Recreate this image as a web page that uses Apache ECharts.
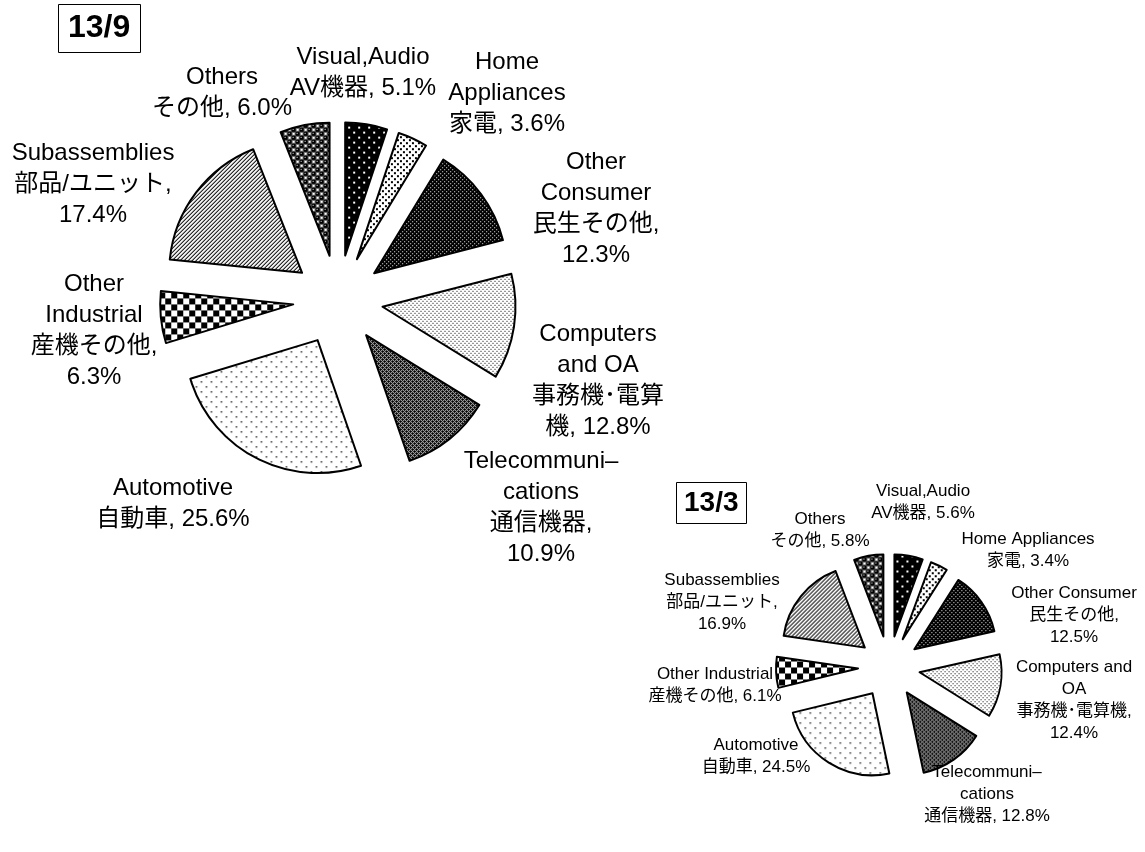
<!DOCTYPE html>
<html>
<head>
<meta charset="utf-8">
<script src="https://cdn.jsdelivr.net/npm/echarts@6/dist/echarts.min.js"></script>
<style>
  html, body { margin: 0; padding: 0; background: #fff; }
  #chart { width: 1145px; height: 852px; }
</style>
</head>
<body>
<div id="chart"></div>
<script>
// 分野別構成比 (clockwise from 12 o'clock)
const categories = ['Visual,Audio', 'Home Appliances', 'Other Consumer', 'Computers and OA',
  'Telecommunications', 'Automotive', 'Other Industrial', 'Subassemblies', 'Others']
const valuesSep = [5.1, 3.6, 12.3, 12.8, 10.9, 25.6, 6.3, 17.4, 6.0]   // 13/9
const valuesMar = [5.6, 3.4, 12.5, 12.4, 12.8, 24.5, 6.1, 16.9, 5.8]   // 13/3

// label texts, {v} is replaced by the value
const sepLabels = [
  'Visual,Audio\nAV機器, {v}%',
  'Home\nAppliances\n家電, {v}%',
  'Other\nConsumer\n民生その他,\n{v}%',
  'Computers\nand OA\n事務機･電算\n機, {v}%',
  'Telecommuni–\ncations\n通信機器,\n{v}%',
  'Automotive\n自動車, {v}%',
  'Other\nIndustrial\n産機その他,\n{v}%',
  'Subassemblies\n部品/ユニット,\n{v}%',
  'Others\nその他, {v}%',
]
const marLabels = [
  'Visual,Audio\nAV機器, {v}%',
  'Home Appliances\n家電, {v}%',
  'Other Consumer\n民生その他,\n{v}%',
  'Computers and\nOA\n事務機･電算機,\n{v}%',
  'Telecommuni–\ncations\n通信機器, {v}%',
  'Automotive\n自動車, {v}%',
  'Other Industrial\n産機その他, {v}%',
  'Subassemblies\n部品/ユニット,\n{v}%',
  'Others\nその他, {v}%',
]

// label block centres (layout only)
const sepLabelAt = [[363, 73], [507, 93], [596, 209], [598, 381], [541, 508], [173, 504], [94, 331], [93, 184], [222, 93]]
const marLabelAt = [[923, 502], [1028, 550], [1074, 615], [1074, 700], [987, 794], [756, 756], [715, 685], [722, 602], [820, 530]]

// ハッチングパターン
const pattern = (w, h, bg, draw) => {
  const c = document.createElement('canvas')
  c.width = w
  c.height = h
  const g = c.getContext('2d')
  g.fillStyle = bg
  g.fillRect(0, 0, w, h)
  draw(g)
  return { image: c, repeat: 'repeat' }
}
const px = (g, col, pts, s = 1) => {
  g.fillStyle = col
  pts.forEach(([x, y]) => g.fillRect(x, y, s, s))
}

const fills = [
  pattern(10, 10, '#000', (g) => px(g, '#fff', [[1, 1], [6, 6]], 2)),
  pattern(6, 6, '#fff', (g) => px(g, '#000', [[0, 0], [3, 3]], 2)),
  pattern(4, 4, '#000', (g) => px(g, '#fff', [[0, 0], [2, 2]])),
  pattern(4, 4, '#fff', (g) => px(g, '#000', [[0, 0], [2, 2]])),
  pattern(4, 4, '#000', (g) => px(g, '#d0d0d0', [[0, 0], [1, 1], [2, 2], [3, 3], [1, 3], [3, 1]])),
  pattern(10, 10, '#fff', (g) => px(g, '#333', [[1, 1], [6, 6]], 1.5)),
  pattern(12, 12, '#fff', (g) => px(g, '#000', [[0, 0], [6, 6]], 6)),
  pattern(4, 4, '#fff', (g) => {
    px(g, '#000', [[3, 0], [2, 1], [1, 2], [0, 3]])
    px(g, '#999', [[2, 0], [1, 1], [0, 2], [3, 3]])
  }),
  pattern(8, 8, '#fff', (g) => {
    // 球 pattern, drawn with wrap-around copies
    g.fillStyle = '#000'
    ;[[2, 2], [6, 6]].forEach(([x, y]) => {
      for (let ox = -8; ox <= 8; ox += 8) {
        for (let oy = -8; oy <= 8; oy += 8) {
          g.beginPath()
          g.arc(x + ox, y + oy, 2.7, 0, Math.PI * 2)
          g.fill()
        }
      }
    })
    px(g, '#fff', [[1, 1], [5, 5]])
  }),
]

const FONT = '"Liberation Sans", "Noto Sans CJK JP", sans-serif'

// 扇形 (exploded slices)
const pieSeries = (values, center, radius, offset) => ({
  type: 'pie',
  center,
  radius,
  startAngle: 90,
  clockwise: true,
  selectedMode: 'multiple',
  selectedOffset: offset,
  silent: true,
  emphasis: { disabled: true },
  itemStyle: { borderColor: '#000', borderWidth: 2 },
  select: { itemStyle: { borderColor: '#000', borderWidth: 2 } },
  label: { show: false },
  labelLine: { show: false },
  data: values.map((v, i) => ({
    name: categories[i],
    value: v,
    selected: true,
    itemStyle: { color: fills[i] },
  })),
})

// ラベル only (same pie, invisible)
const labelSeries = (values, texts, center, radius, fontSize, lineHeight, at) => ({
  type: 'pie',
  center,
  radius,
  startAngle: 90,
  clockwise: true,
  silent: true,
  z: 5,
  avoidLabelOverlap: false,
  minShowLabelAngle: 0,
  emphasis: { disabled: true },
  itemStyle: { color: 'rgba(0,0,0,0)', borderWidth: 0 },
  label: {
    show: true,
    position: 'outside',
    color: '#000',
    fontFamily: FONT,
    fontSize,
    lineHeight,
    align: 'center',
  },
  labelLine: { show: false },
  labelLayout: (p) => ({
    x: at[p.dataIndex][0],
    y: at[p.dataIndex][1],
    align: 'center',
    verticalAlign: 'middle',
  }),
  data: values.map((v, i) => ({
    name: categories[i],
    value: v,
    label: { formatter: texts[i].replace('{v}', v.toFixed(1)) },
  })),
})

const chart = echarts.init(document.getElementById('chart'))
chart.setOption({
  backgroundColor: '#fff',
  animation: false,
  title: [
    {
      text: '13/9',
      left: 58,
      top: 4,
      padding: [6, 10],
      borderColor: '#000',
      borderWidth: 1,
      textStyle: { fontFamily: FONT, fontSize: 32, fontWeight: 'bold', color: '#000', lineHeight: 37 },
    },
    {
      text: '13/3',
      left: 676,
      top: 482,
      padding: [5, 8],
      borderColor: '#000',
      borderWidth: 1,
      textStyle: { fontFamily: FONT, fontSize: 28, fontWeight: 'bold', color: '#000', lineHeight: 32 },
    },
  ],
  series: [
    pieSeries(valuesSep, [338, 300], 133, 45),
    pieSeries(valuesMar, [889, 667], 82, 31),
    labelSeries(valuesSep, sepLabels, [338, 300], 133, 24, 31, sepLabelAt),
    labelSeries(valuesMar, marLabels, [889, 667], 82, 17, 22, marLabelAt),
  ],
})
</script>
</body>
</html>
